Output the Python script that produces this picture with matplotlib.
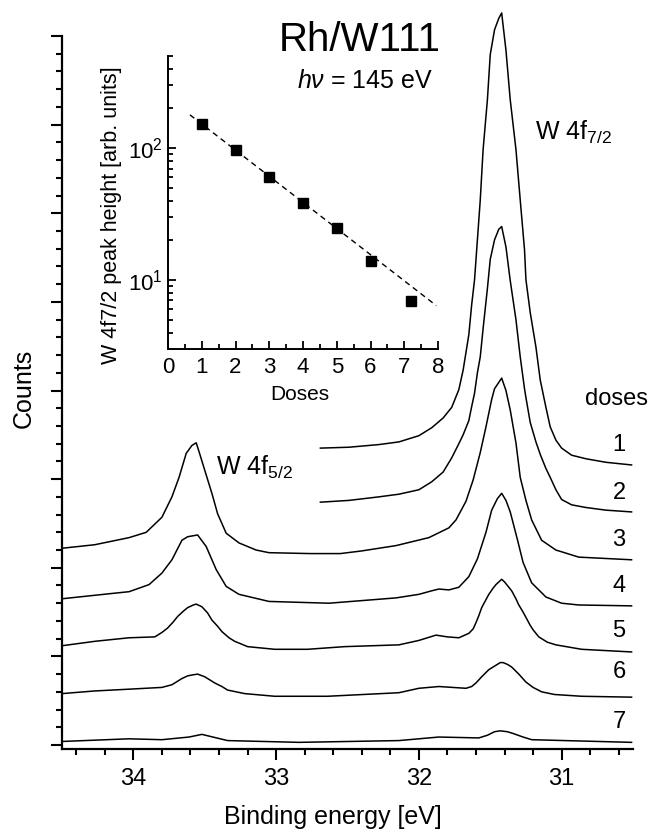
import matplotlib
matplotlib.use("Agg")
import matplotlib.pyplot as plt
from matplotlib.ticker import MultipleLocator, LogLocator, NullFormatter

plt.rcParams['font.family'] = ['Liberation Sans', 'DejaVu Sans']
plt.rcParams['mathtext.fontset'] = 'custom'
plt.rcParams['mathtext.rm'] = 'Liberation Sans'
plt.rcParams['mathtext.it'] = 'Liberation Sans:italic'
plt.rcParams['mathtext.bf'] = 'Liberation Sans:bold'
plt.rcParams['mathtext.default'] = 'regular'

# ---------------- data ----------------
# binding energy [eV] and counts (arbitrary units, stacked) per dose
e1 = [32.69, 32.49, 32.28, 32.14, 32.00, 31.91, 31.83, 31.77, 31.72, 31.69, 31.65,
      31.63, 31.61, 31.59, 31.57, 31.55, 31.52, 31.50, 31.47, 31.44, 31.42, 31.39,
      31.36, 31.32, 31.29, 31.26, 31.25, 31.22, 31.18, 31.15, 31.11, 31.08, 31.04,
      31.00, 30.93, 30.83, 30.69, 30.51]
c1 = [3.35, 3.36, 3.39, 3.42, 3.49, 3.58, 3.69, 3.81, 4.01, 4.23, 4.63,
      4.97, 5.25, 5.70, 6.15, 6.72, 7.28, 7.79, 8.07, 8.20, 8.26, 7.84,
      7.28, 6.72, 6.15, 5.59, 5.25, 4.88, 4.49, 4.12, 3.81, 3.59, 3.44,
      3.35, 3.27, 3.23, 3.19, 3.16]

e2 = [32.69, 32.49, 32.28, 32.14, 32.00, 31.91, 31.83, 31.77, 31.72, 31.69, 31.65,
      31.63, 31.61, 31.59, 31.57, 31.55, 31.52, 31.50, 31.47, 31.44, 31.42, 31.39,
      31.36, 31.32, 31.29, 31.26, 31.25, 31.22, 31.18, 31.15, 31.11, 31.08, 31.04,
      31.00, 30.93, 30.83, 30.69, 30.51]
c2 = [2.74, 2.76, 2.80, 2.83, 2.88, 2.97, 3.08, 3.24, 3.40, 3.50, 3.66,
      3.82, 3.97, 4.20, 4.38, 4.70, 5.15, 5.48, 5.70, 5.82, 5.85, 5.62,
      5.24, 4.80, 4.38, 4.02, 3.92, 3.64, 3.42, 3.28, 3.12, 3.02, 2.88,
      2.77, 2.71, 2.68, 2.65, 2.63]

e3 = [34.50, 34.27, 34.03, 33.91, 33.80, 33.73, 33.68, 33.63, 33.59, 33.56, 33.54,
      33.50, 33.45, 33.41, 33.35, 33.26, 33.14, 33.05, 32.76, 32.55, 32.40, 32.16,
      31.93, 31.79, 31.74, 31.67, 31.62, 31.57, 31.53, 31.49, 31.47, 31.42, 31.39,
      31.36, 31.32, 31.29, 31.25, 31.21, 31.14, 31.04, 30.88, 30.51]
c3 = [2.22, 2.26, 2.34, 2.40, 2.57, 2.80, 3.02, 3.29, 3.38, 3.41, 3.31,
      3.10, 2.84, 2.61, 2.39, 2.28, 2.20, 2.17, 2.16, 2.16, 2.19, 2.25,
      2.34, 2.45, 2.54, 2.75, 2.99, 3.30, 3.59, 3.90, 4.02, 4.14, 4.00,
      3.78, 3.41, 3.02, 2.76, 2.54, 2.31, 2.20, 2.12, 2.09]

e4 = [34.50, 34.15, 34.03, 33.89, 33.80, 33.73, 33.66, 33.62, 33.55, 33.49, 33.42,
      33.35, 33.26, 33.05, 32.63, 32.16, 32.00, 31.91, 31.86, 31.79, 31.72, 31.65,
      31.59, 31.53, 31.49, 31.45, 31.42, 31.39, 31.36, 31.31, 31.27, 31.21, 31.11,
      31.00, 30.88, 30.51]
c4 = [1.65, 1.71, 1.73, 1.81, 1.94, 2.09, 2.31, 2.35, 2.37, 2.24, 1.98,
      1.79, 1.70, 1.62, 1.60, 1.66, 1.70, 1.74, 1.76, 1.75, 1.78, 1.90,
      2.10, 2.40, 2.65, 2.78, 2.84, 2.76, 2.63, 2.32, 2.06, 1.83, 1.67,
      1.60, 1.58, 1.57]

e5 = [34.50, 34.27, 34.03, 33.85, 33.80, 33.76, 33.72, 33.69, 33.65, 33.62, 33.58,
      33.56, 33.52, 33.48, 33.45, 33.41, 33.38, 33.33, 33.29, 33.20, 33.01, 32.78,
      32.52, 32.14, 32.00, 31.88, 31.80, 31.72, 31.65, 31.62, 31.60, 31.58, 31.56,
      31.53, 31.51, 31.48, 31.46, 31.42, 31.40, 31.38, 31.35, 31.32, 31.30, 31.27,
      31.25, 31.22, 31.20, 31.16, 31.10, 31.04, 30.86, 30.51]
c5 = [1.12, 1.17, 1.21, 1.22, 1.27, 1.32, 1.39, 1.45, 1.51, 1.55, 1.58,
      1.59, 1.56, 1.49, 1.41, 1.34, 1.28, 1.21, 1.17, 1.11, 1.08, 1.08,
      1.11, 1.13, 1.18, 1.24, 1.22, 1.21, 1.26, 1.31, 1.38, 1.46, 1.55,
      1.64, 1.70, 1.77, 1.81, 1.87, 1.84, 1.80, 1.74, 1.65, 1.58, 1.50,
      1.44, 1.35, 1.30, 1.22, 1.16, 1.13, 1.08, 1.05]

e6 = [34.50, 34.27, 34.03, 33.80, 33.73, 33.69, 33.66, 33.62, 33.59, 33.55, 33.50,
      33.46, 33.43, 33.38, 33.34, 33.28, 33.22, 33.01, 32.64, 32.14, 32.00, 31.86,
      31.67, 31.63, 31.60, 31.56, 31.51, 31.46, 31.43, 31.41, 31.38, 31.35, 31.30,
      31.25, 31.20, 31.14, 31.05, 30.86, 30.51]
c6 = [0.58, 0.61, 0.63, 0.65, 0.68, 0.72, 0.75, 0.78, 0.79, 0.80, 0.77,
      0.73, 0.70, 0.66, 0.62, 0.60, 0.58, 0.55, 0.55, 0.59, 0.64, 0.66,
      0.64, 0.66, 0.70, 0.77, 0.85, 0.90, 0.93, 0.93, 0.91, 0.88, 0.80,
      0.71, 0.65, 0.60, 0.57, 0.55, 0.54]

e7 = [34.50, 34.03, 33.80, 33.61, 33.52, 33.34, 32.84, 32.14, 31.86, 31.58, 31.52,
      31.47, 31.43, 31.38, 31.34, 31.27, 31.21, 30.51]
c7 = [0.04, 0.07, 0.06, 0.09, 0.12, 0.05, 0.03, 0.05, 0.09, 0.08, 0.11,
      0.15, 0.16, 0.15, 0.13, 0.09, 0.06, 0.03]

dose_labels = ['1', '2', '3', '4', '5', '6', '7']

# inset: W 4f7/2 peak height vs dose
doses = [1, 2, 3, 4, 5, 6, 7.2]
peak_height = [152, 97, 60, 38.7, 24.9, 14.0, 6.9]
fit_doses = [0.65, 7.95]
fit_height = [179, 6.4]

# ---------------- figure ----------------
W, H = 663, 832
fig = plt.figure(figsize=(W / 100, H / 100), dpi=100)

def fx(px):
    return px / W

def fy(py):
    return 1 - py / H

ax = fig.add_axes([fx(62), fy(749), fx(633) - fx(62), fy(36) - fy(749)])
for e, c in [(e1, c1), (e2, c2), (e3, c3), (e4, c4), (e5, c5), (e6, c6), (e7, c7)]:
    ax.plot(e, c, color='black', lw=1.1, clip_on=False)

ax.set_xlim(34.5, 30.5)
ax.set_ylim(-0.045, 8.0)
ax.spines['top'].set_visible(False)
ax.spines['right'].set_visible(False)
ax.spines['left'].set_linewidth(1.6)
ax.spines['bottom'].set_linewidth(1.6)
ax.xaxis.set_major_locator(MultipleLocator(1))
ax.xaxis.set_minor_locator(MultipleLocator(0.2))
ax.yaxis.set_major_locator(MultipleLocator(1))
ax.yaxis.set_minor_locator(MultipleLocator(0.2))
ax.tick_params(axis='both', which='major', direction='out', length=8, width=1.5, labelsize=17, pad=6)
ax.tick_params(axis='both', which='minor', direction='out', length=4.5, width=1.5)
ax.tick_params(axis='y', labelleft=False)
ax.set_xlabel('Binding energy [eV]', fontsize=18)
ax.xaxis.set_label_coords(0.475, -0.078)
ax.set_ylabel('Counts', fontsize=18)
ax.yaxis.set_label_coords(-0.046, 0.506)
ax.patch.set_alpha(0)

# annotations
fig.text(fx(360), fy(40), 'Rh/W111', fontsize=29, ha='center', va='center')
fig.text(fx(365), fy(81), r'$\mathit{h\nu}$ = 145 eV', fontsize=18, ha='center', va='center')
fig.text(fx(535), fy(140), r'W 4f$_{7/2}$', fontsize=18, ha='left', va='baseline')
fig.text(fx(216), fy(475), r'W 4f$_{5/2}$', fontsize=18, ha='left', va='baseline')
fig.text(fx(616), fy(399), 'doses', fontsize=17, ha='center', va='center')
label_py = [445, 493, 540, 586, 631, 672, 722]
for lab, py in zip(dose_labels, label_py):
    fig.text(fx(619), fy(py), lab, fontsize=17, ha='center', va='center')

# inset
axi = fig.add_axes([fx(168), fy(349), fx(438) - fx(168), fy(56) - fy(349)])
axi.plot(fit_doses, fit_height, color='black', lw=1.0, ls=(0, (4, 3)))
axi.plot(doses, peak_height, ls='none', marker='s', ms=7, color='black')
axi.set_yscale('log')
axi.set_xlim(0, 8)
axi.set_ylim(3, 500)
axi.spines['top'].set_visible(False)
axi.spines['right'].set_visible(False)
axi.spines['left'].set_linewidth(1.4)
axi.spines['bottom'].set_linewidth(1.4)
axi.xaxis.set_major_locator(MultipleLocator(1))
axi.xaxis.set_minor_locator(MultipleLocator(0.5))
axi.yaxis.set_major_locator(LogLocator(base=10, numticks=10))
axi.yaxis.set_minor_locator(LogLocator(base=10, subs=range(2, 10), numticks=10))
axi.yaxis.set_minor_formatter(NullFormatter())
axi.tick_params(axis='both', which='major', direction='in', length=6, width=1.3, labelsize=16)
axi.tick_params(axis='x', which='major', pad=6)
axi.tick_params(axis='y', which='major', pad=4)
axi.tick_params(axis='both', which='minor', direction='in', length=3.5, width=1.3)
axi.set_xlabel('Doses', fontsize=15)
axi.xaxis.set_label_coords(0.489, -0.122)
axi.set_ylabel('W 4f7/2 peak height [arb. units]', fontsize=15.5)
axi.yaxis.set_label_coords(-0.17, 0.457)
axi.patch.set_alpha(0)

fig.savefig('out.png', dpi=100)
